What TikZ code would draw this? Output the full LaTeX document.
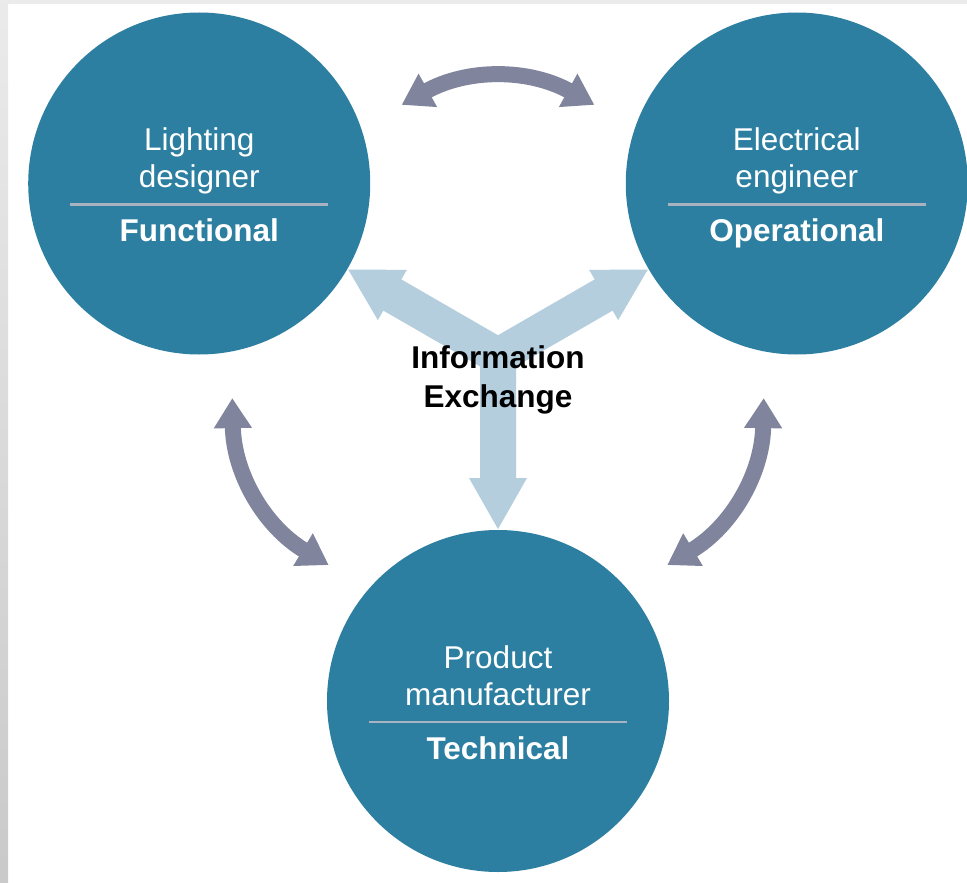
\documentclass[tikz,border=0pt]{standalone}
\usepackage{fontspec}
\setmainfont{Liberation Sans}
\usetikzlibrary{arrows.meta,calc}
\definecolor{circfill}{HTML}{2C7FA0}
\definecolor{sepline}{HTML}{A8B2C0}
\definecolor{linkgray}{HTML}{80849C}
\definecolor{ylight}{HTML}{B5CEDD}
\begin{document}
\begin{tikzpicture}[x=1pt,y=1pt,
  circ/.style={circle, fill=circfill, draw=none, minimum size=342pt, inner sep=0pt},
  role/.style={text=white, font=\fontsize{31.5}{36}\selectfont, anchor=base, inner sep=0pt},
  aspect/.style={text=white, font=\fontsize{31.5}{36}\selectfont\bfseries, anchor=base, inner sep=0pt},
  centertxt/.style={text=black, font=\fontsize{31.5}{36}\selectfont\bfseries, anchor=base, inner sep=0pt},
  sep/.style={draw=sepline, line width=2.5pt},
  link/.style={draw=linkgray, line width=16pt,
    {Triangle[width=36pt,length=30pt]}-{Triangle[width=36pt,length=30pt]}},
  yarrow/.style={fill=ylight, draw=none}
]
% canvas
\useasboundingbox (0,-883) rectangle (967,0);
\fill[white] (0,-883) rectangle (967,0);
\shade[top color=gray!16, bottom color=gray!42] (0,-883) rectangle (8,0);
\fill[gray!16] (0,-4) rectangle (967,0);

\coordinate (O) at (498,-356);

% information exchange Y-arrow
\fill[yarrow, shift={(O)}]
  (330:20.78)
  -- ([rotate=30]122,-18) -- ([rotate=30]122,-29) -- ([rotate=30]173,0)
  -- ([rotate=30]122,29) -- ([rotate=30]122,18)
  -- (90:20.78)
  -- ([rotate=150]122,-18) -- ([rotate=150]122,-29) -- ([rotate=150]173,0)
  -- ([rotate=150]122,29) -- ([rotate=150]122,18)
  -- (210:20.78)
  -- ([rotate=270]122,-18) -- ([rotate=270]122,-29) -- ([rotate=270]173,0)
  -- ([rotate=270]122,29) -- ([rotate=270]122,18)
  -- cycle;

% circles
\node[circ] (L) at ($(O)+(150:345)$) {};
\node[circ] (R) at ($(O)+(30:345)$) {};
\node[circ] (B) at ($(O)+(270:345)$) {};

% texts in circles
\node[role] (Lt1) at ($(L)+(0,33)$) {Lighting};
\node[role] (Lt2) at ($(L)+(0,-4)$) {designer};
\draw[sep] ($(L)+(-129,-21)$) -- ($(L)+(129,-21)$);
\node[aspect] (Lt3) at ($(L)+(0,-58)$) {Functional};

\node[role] (Rt1) at ($(R)+(0,33)$) {Electrical};
\node[role] (Rt2) at ($(R)+(0,-4)$) {engineer};
\draw[sep] ($(R)+(-129,-21)$) -- ($(R)+(129,-21)$);
\node[aspect] (Rt3) at ($(R)+(0,-58)$) {Operational};

\node[role] (Bt1) at ($(B)+(0,33)$) {Product};
\node[role] (Bt2) at ($(B)+(0,-4)$) {manufacturer};
\draw[sep] ($(B)+(-129,-21)$) -- ($(B)+(129,-21)$);
\node[aspect] (Bt3) at ($(B)+(0,-58)$) {Technical};

% centre text
\node[centertxt] (ie1) at ($(O)+(0,-12)$) {Information};
\node[centertxt] (ie2) at ($(O)+(0,-51)$) {Exchange};

% curved double arrows between circles
\coordinate (a1) at ($(O)+(111:269)$);
\coordinate (a2) at ($(O)+(69:269)$);
\coordinate (b1) at ($(O)+(231:269)$);
\coordinate (b2) at ($(O)+(189:269)$);
\coordinate (c1) at ($(O)+(351:269)$);
\coordinate (c2) at ($(O)+(309:269)$);
\draw[link] (a1) to[bend left=29] (a2);
\draw[link] (b1) to[bend left=29] (b2);
\draw[link] (c1) to[bend left=29] (c2);
\end{tikzpicture}
\end{document}
